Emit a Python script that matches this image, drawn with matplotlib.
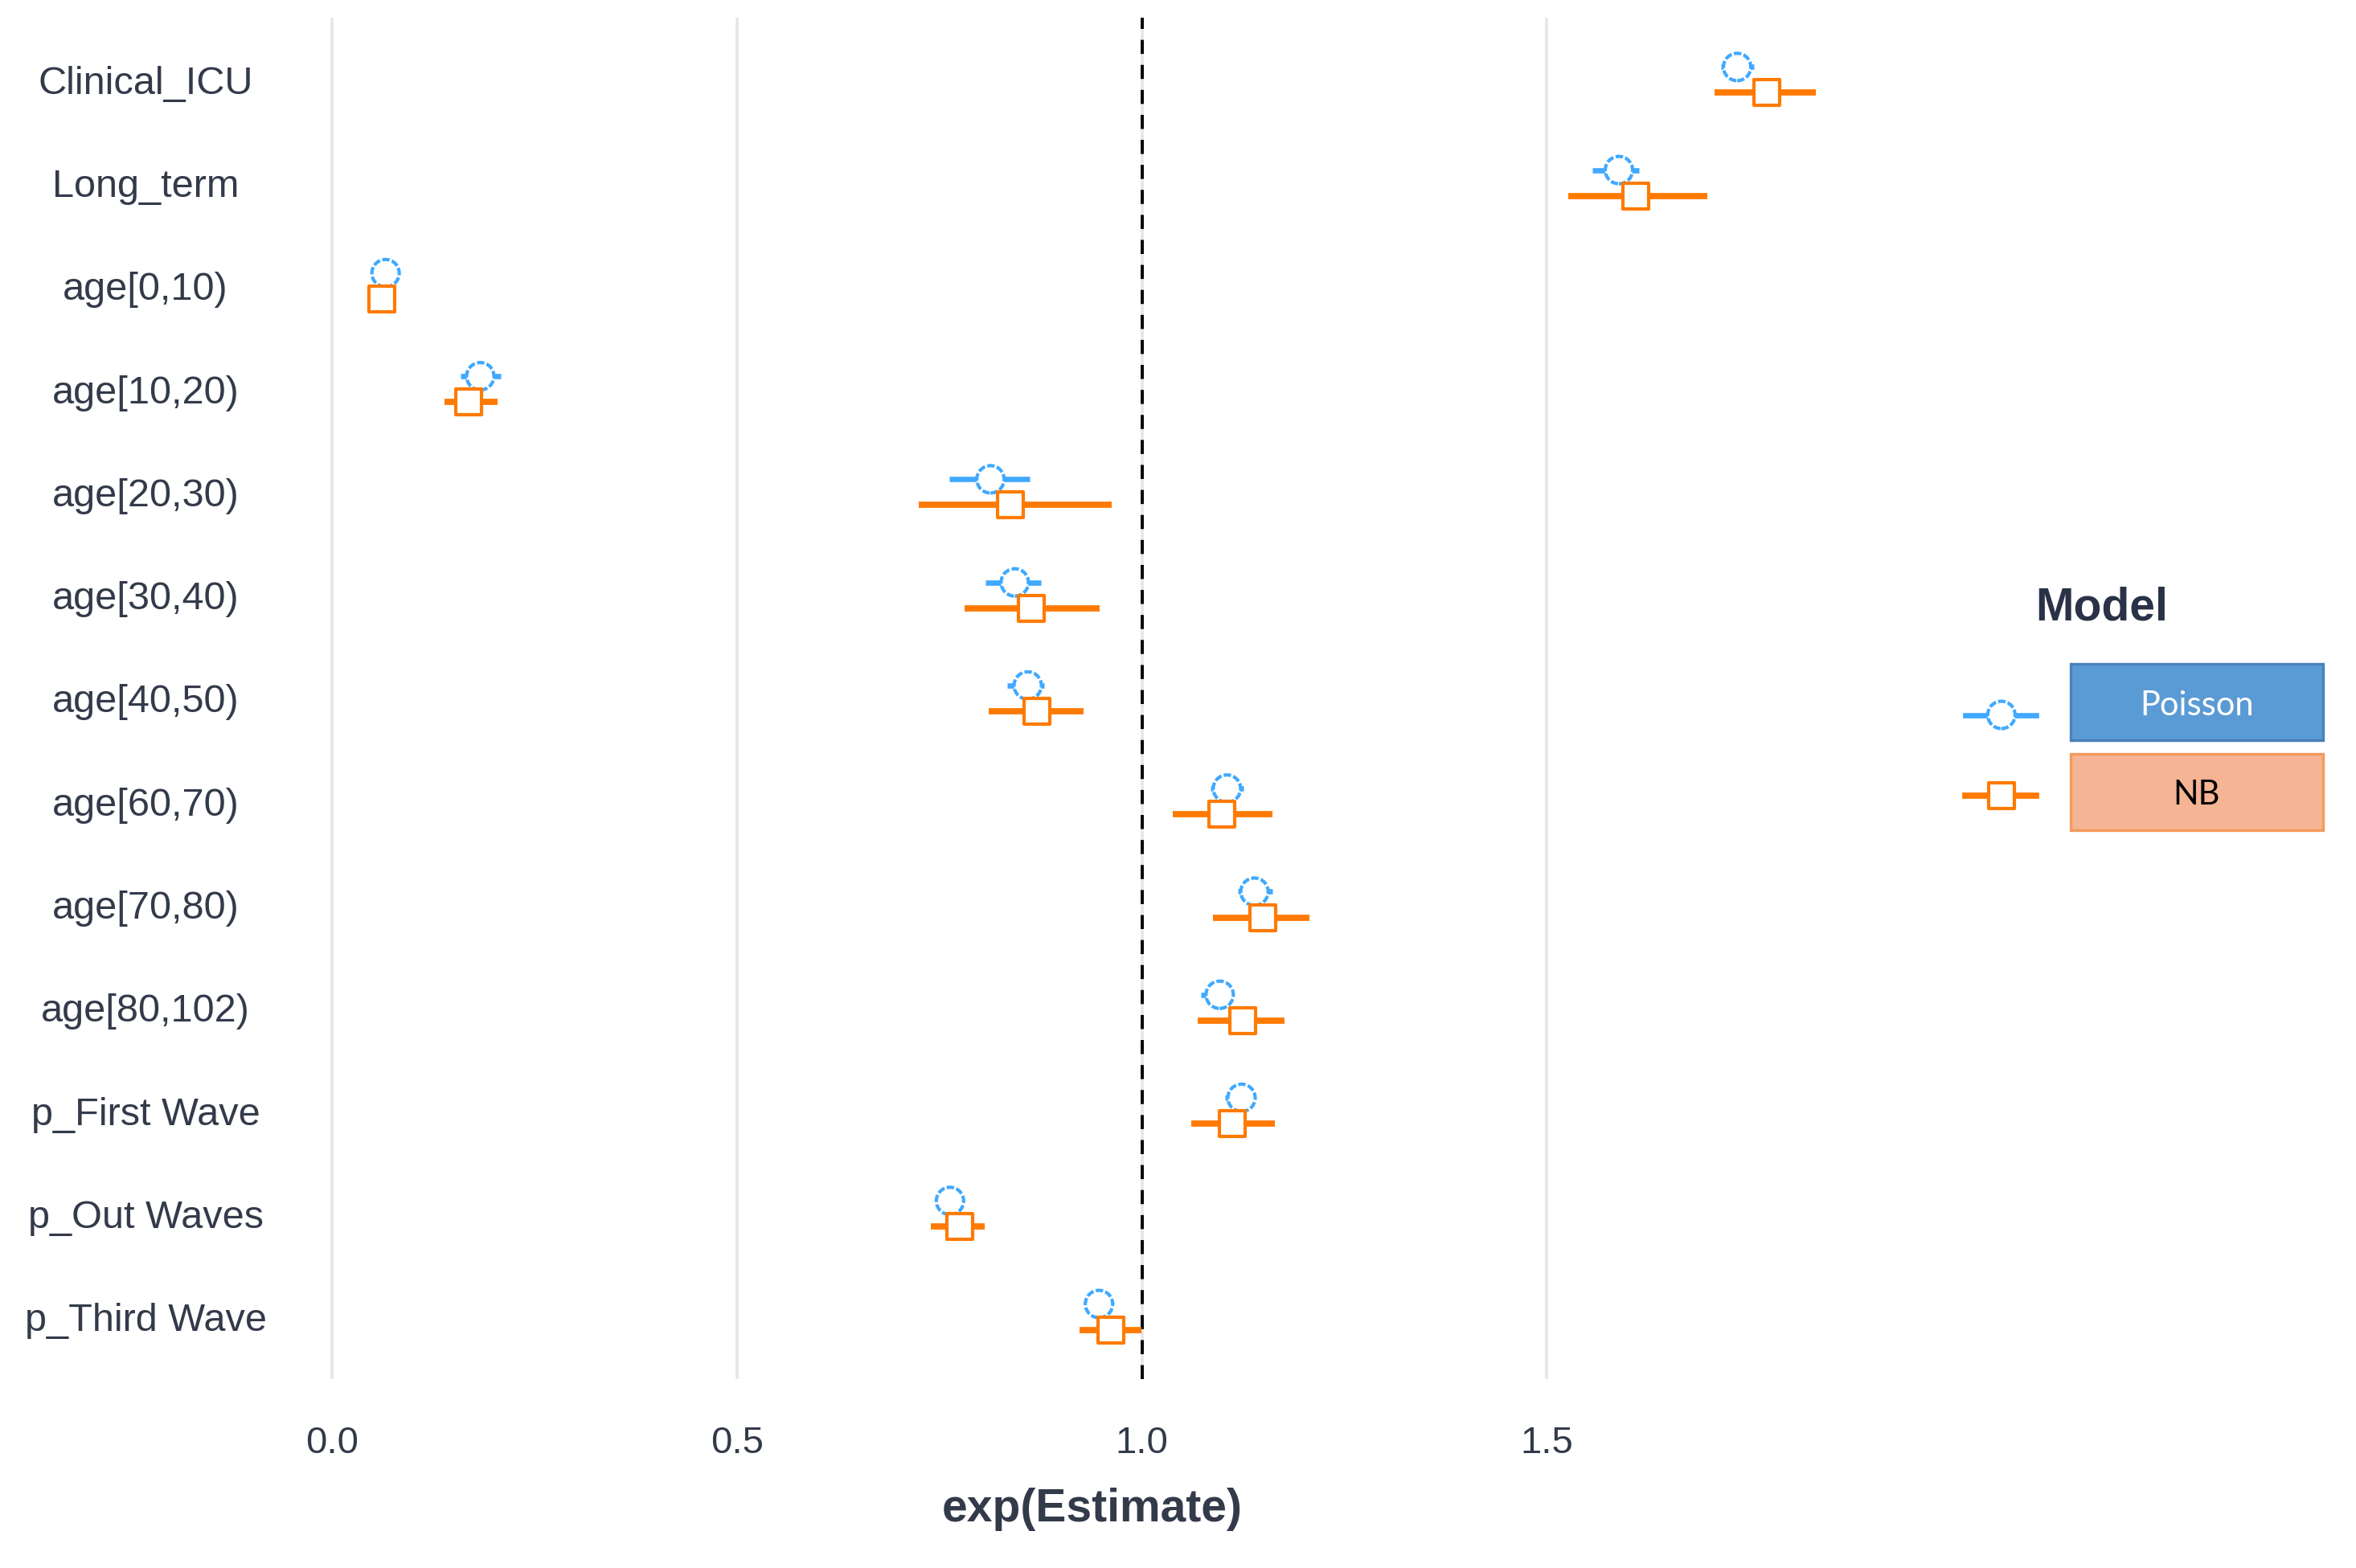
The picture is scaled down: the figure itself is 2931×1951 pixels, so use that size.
import numpy as np
import matplotlib
matplotlib.use("Agg")
import matplotlib.pyplot as plt
from matplotlib.patches import Rectangle

plt.rcParams['font.family'] = ['Liberation Sans', 'DejaVu Sans']

terms = ["Clinical_ICU", "Long_term", "age[0,10)", "age[10,20)", "age[20,30)",
         "age[30,40)", "age[40,50)", "age[60,70)", "age[70,80)", "age[80,102)",
         "p_First Wave", "p_Out Waves", "p_Third Wave"]

pois_est = [1.735, 1.589, 0.066, 0.183, 0.813, 0.843, 0.859, 1.105, 1.139, 1.096, 1.123, 0.763, 0.947]
pois_lo = [1.715, 1.556, 0.060, 0.159, 0.762, 0.807, 0.834, 1.085, 1.119, 1.073, 1.103, 0.750, 0.935]
pois_hi = [1.756, 1.614, 0.073, 0.208, 0.861, 0.875, 0.879, 1.125, 1.161, 1.110, 1.135, 0.776, 0.960]

nb_est = [1.772, 1.610, 0.061, 0.169, 0.838, 0.863, 0.870, 1.099, 1.149, 1.124, 1.112, 0.775, 0.962]
nb_lo = [1.707, 1.526, 0.052, 0.139, 0.724, 0.781, 0.811, 1.038, 1.088, 1.069, 1.061, 0.739, 0.923]
nb_hi = [1.832, 1.698, 0.071, 0.204, 0.963, 0.948, 0.928, 1.161, 1.207, 1.176, 1.164, 0.806, 0.999]

x_ticks = [0.0, 0.5, 1.0, 1.5]

BLUE = "#40a9ff"
ORANGE = "#ff7a00"
TXT = "#333a4a"
CIRCLE_LS = (0, (2.2, 0.7))

W, H = 2931, 1951
fig = plt.figure(figsize=(W / 200, H / 200), dpi=200)
# layout measured in the 1568x1044 preview
sx, sy = 1568.0, 1044.0
ax = fig.add_axes([189 / sx, 1 - 918 / sy, (1265 - 189) / sx, (918 - 12) / sy])

n = len(terms)
ypos = np.arange(n)[::-1] + 1.0
off = 0.125

ax.axvline(1.0, color="black", lw=1.4, ls=(0, (4.5, 3.5)), zorder=1.5)

ax.hlines(ypos + off, pois_lo, pois_hi, color=BLUE, lw=2.4, zorder=2)
ax.scatter(pois_est, ypos + off, s=150, facecolors="white", edgecolors=BLUE,
           linewidths=1.5, linestyle=CIRCLE_LS, zorder=3)
ax.hlines(ypos - off, nb_lo, nb_hi, color=ORANGE, lw=2.8, zorder=4)
ax.scatter(nb_est, ypos - off, s=125, marker="s", facecolors="white",
           edgecolors=ORANGE, linewidths=1.5, zorder=5)

ax.set_xlim(-0.0594, 1.937)
ax.set_ylim(0.4, n + 0.6)
ax.set_xticks(x_ticks)
ax.set_xticklabels([f"{v:.1f}" for v in x_ticks])
ax.set_yticks(ypos)
ax.set_yticklabels(terms, ha="center")
ax.tick_params(axis="y", length=0, pad=62, labelsize=17.5, labelcolor=TXT)
ax.tick_params(axis="x", length=0, pad=21, labelsize=17, labelcolor=TXT)
ax.grid(axis="x", color="#e6e6e6", lw=1.3, zorder=0)
ax.set_axisbelow(True)
for s in ax.spines.values():
    s.set_visible(False)

ax.set_xlabel("exp(Estimate)", fontsize=20.5, fontweight="bold", color=TXT)
ax.xaxis.set_label_coords(0.5, (1 - 1005 / sy - (1 - 918 / sy)) / ((918 - 12) / sy))
ax.xaxis.label.set_va("center")

# legend, drawn in preview pixel units
lax = fig.add_axes([1290 / sx, 1 - 570 / sy, (1562 - 1290) / sx, (570 - 380) / sy])
lax.set_xlim(1290, 1562)
lax.set_ylim(570, 380)
lax.axis("off")

lax.text(1399, 405, "Model", ha="center", va="center", fontsize=20.5,
         fontweight="bold", color="#2a3247")
lax.plot([1308, 1355], [476, 476], color=BLUE, lw=2.4, zorder=1)
lax.scatter([1332], [476], s=150, facecolors="white", edgecolors=BLUE,
            linewidths=1.5, linestyle=CIRCLE_LS, zorder=2)
lax.plot([1308, 1355], [530, 530], color=ORANGE, lw=2.8, zorder=1)
lax.scatter([1332], [530], s=125, marker="s", facecolors="white",
            edgecolors=ORANGE, linewidths=1.5, zorder=2)

lax.add_patch(Rectangle((1378, 442), 168, 51, facecolor="#5b9bd5",
                        edgecolor="#4a80b8", lw=1.2))
lax.text(1462, 470, "Poisson", ha="center", va="center", fontsize=15,
         color="white", family=["Lato", "DejaVu Sans"])
lax.add_patch(Rectangle((1378, 502), 168, 51, facecolor="#f5b493",
                        edgecolor="#f39a5c", lw=1.2))
lax.text(1462, 529, "NB", ha="center", va="center", fontsize=15,
         color="black", family=["Lato", "DejaVu Sans"])

fig.savefig("out.png", dpi=200, facecolor="white")
